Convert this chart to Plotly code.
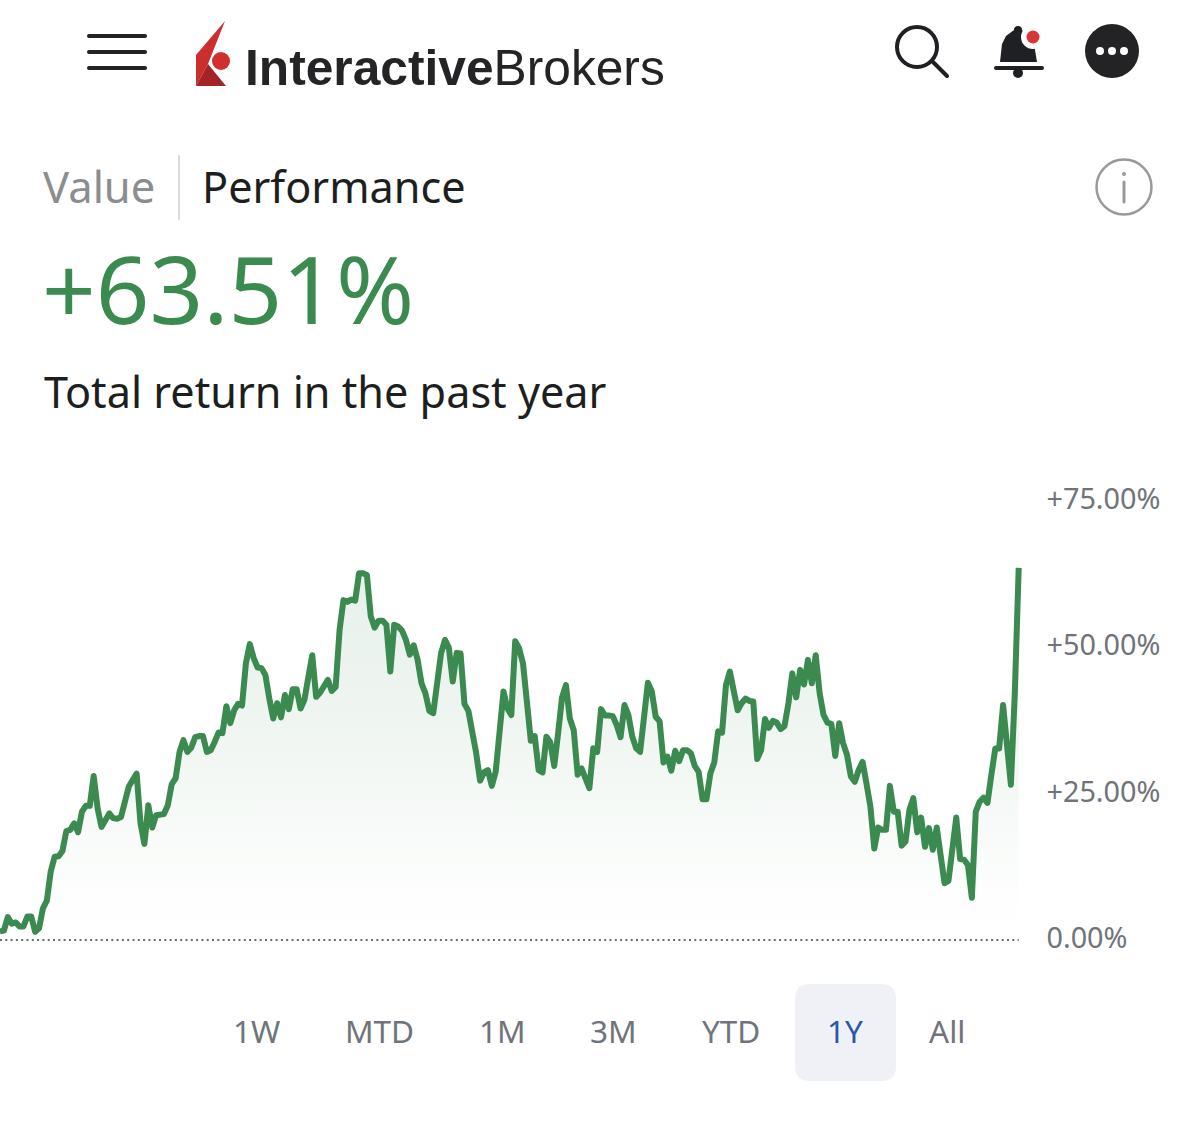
"""Interactive Brokers "Performance" phone screen: 1Y total return line."""
import plotly.graph_objects as go

W, H = 1200, 1135
GREEN = "#3b8a50"
DARK = "#1f2023"
GREY = "#70747a"
BODY_FONT = "Noto Sans"

# total return per session, percent
return_pct = [
    1.5, 1.6, 3.9, 2.8, 3.0, 2.3, 2.3, 4.0, 4.0, 1.4, 2.0, 5.4, 6.7, 11.7, 14.2, 14.3, 15.2, 18.6, 18.8, 19.9,
    18.4, 21.9, 22.9, 22.9, 28.0, 22.5, 19.3, 20.5, 21.6, 20.8, 20.7, 21.0, 24.2, 26.2, 27.3, 28.4, 19.9, 16.4, 23.0, 19.2,
    21.3, 21.4, 21.5, 23.0, 26.6, 27.6, 32.1, 34.1, 32.1, 32.8, 34.6, 34.8, 34.8, 32.1, 32.4, 33.8, 35.4, 35.3, 39.9, 37.0,
    39.2, 40.3, 40.0, 47.2, 50.5, 48.1, 46.5, 46.4, 45.2, 41.2, 37.8, 40.4, 38.0, 41.8, 39.4, 42.8, 42.8, 39.5, 41.0, 44.9,
    48.6, 41.5, 42.2, 43.3, 44.4, 42.5, 43.2, 52.9, 58.0, 57.7,
    58.1, 57.9, 62.6, 62.6, 62.3, 55.2, 53.3, 54.5, 54.5, 53.8, 45.8, 53.8, 53.5, 52.8, 51.2, 48.7, 50.3, 47.8, 43.8, 42.1,
    39.1, 38.7, 43.8, 48.9, 51.2, 49.9, 44.1, 49.0, 48.9, 40.3, 39.1, 35.8, 31.9, 27.2, 28.6, 29.0, 26.3, 28.7, 35.8, 42.4,
    39.5, 38.4, 51.0, 49.8, 47.2, 40.4, 34.0, 34.8, 29.0, 28.6, 34.7, 33.7, 29.7, 35.3, 41.4, 43.5, 37.8, 35.8, 28.2, 29.3,
    27.6, 25.9, 32.7, 32.1, 39.4, 38.3, 38.3, 38.2, 36.7, 34.6, 40.1, 38.4, 34.7, 32.7, 32.1, 38.1, 43.9, 42.4, 38.1, 37.3,
    30.3, 31.3, 28.9, 32.3, 30.5, 32.4, 32.4,
    31.9, 29.7, 28.7, 24.0, 24.0, 28.4, 30.3, 35.6, 35.4, 43.5, 45.8, 42.9, 39.2, 40.4, 41.2, 40.8, 40.7, 30.9, 32.4, 37.7,
    36.2, 37.4, 37.1, 36.0, 36.5, 40.4, 45.5, 41.4, 46.1, 43.6, 47.8, 43.8, 48.6, 42.1, 38.4, 37.1, 36.9, 31.4, 37.0, 33.6,
    31.6, 27.9, 27.0, 29.0, 30.4, 26.7, 22.8, 15.6, 19.2, 18.8, 18.8, 26.3, 21.9, 21.9, 16.1, 16.8, 22.2, 24.2, 18.4, 20.9,
    15.9, 19.1, 15.4, 19.2, 14.5, 9.7, 10.1, 15.9, 20.9, 13.8, 13.7, 12.8, 7.2, 21.9, 23.6, 24.3, 23.4, 28.2, 32.7, 32.7,
    40.1, 33.3, 26.5, 42.1, 63.51,
]
tick_vals = [0, 25, 50, 75]
tick_labels = ["0.00%", "+25.00%", "+50.00%", "+75.00%"]
range_labels = ["1W", "MTD", "1M", "3M", "YTD", "1Y", "All"]
range_centers = [256, 379, 502, 613, 731, 845, 947]


def fx(x):
    return x / W


def fy(y):
    return 1 - y / H


def poly(points, closed=True):
    cmds = [f"{'M' if i == 0 else 'L'} {fx(x):.5f} {fy(y):.5f}" for i, (x, y) in enumerate(points)]
    return " ".join(cmds) + (" Z" if closed else "")


def round_rect(x0, y0, x1, y1, r):
    p = lambda x, y: f"{fx(x):.5f} {fy(y):.5f}"
    return (f"M {p(x0 + r, y0)} L {p(x1 - r, y0)} Q {p(x1, y0)} {p(x1, y0 + r)} "
            f"L {p(x1, y1 - r)} Q {p(x1, y1)} {p(x1 - r, y1)} "
            f"L {p(x0 + r, y1)} Q {p(x0, y1)} {p(x0, y1 - r)} "
            f"L {p(x0, y0 + r)} Q {p(x0, y0)} {p(x0 + r, y0)} Z")


def paper_shape(**kw):
    return dict(xref="paper", yref="paper", **kw)


def line(x0, y0, x1, y1, color, width):
    return paper_shape(type="line", x0=fx(x0), y0=fy(y0), x1=fx(x1), y1=fy(y1),
                       line=dict(color=color, width=width))


def circle(cx, cy, r, fill=None, stroke=None, width=0):
    return paper_shape(type="circle", x0=fx(cx - r), y0=fy(cy - r), x1=fx(cx + r), y1=fy(cy + r),
                       fillcolor=fill or "rgba(0,0,0,0)",
                       line=dict(color=stroke or "rgba(0,0,0,0)", width=width))


def label(text, x, y, size, color, anchor="left", family=BODY_FONT, weight=None):
    font = dict(family=family, size=size, color=color)
    if weight:
        font["weight"] = weight
    return dict(text=text, x=fx(x), y=fy(y), xref="paper", yref="paper", showarrow=False,
                xanchor=anchor, yanchor="middle", font=font)


n = len(return_pct)
sessions = list(range(n))
last_px = 1018.7
px_per_session = last_px / (n - 1)
right_px = last_px + 4
px_per_pct = 5.86
zero_px = 940

fig = go.Figure()
fig.add_trace(go.Scatter(
    x=sessions, y=return_pct, mode="lines", fill="tozeroy",
    fillgradient=dict(type="vertical", start=0, stop=62,
                      colorscale=[[0, "rgba(255,255,255,1)"], [0.12, "rgba(253,254,253,1)"],
                                  [0.6, "#eff5f1"], [1, "#e8f1ec"]]),
    line=dict(color=GREEN, width=6, shape="linear"), hoverinfo="skip"))
fig.add_trace(go.Scatter(
    x=[0, n - 1], y=[0, 0], mode="lines",
    line=dict(color="#6b6b6b", width=2, dash="2px,3.3px"), hoverinfo="skip"))

# ---- app chrome drawn in page pixels ---------------------------------------
shapes = []
for y in (36, 52, 68):
    shapes.append(line(89, y, 145, y, "#232326", 4))
shapes += [
    paper_shape(type="path", path=poly([(225, 21), (196, 55), (196, 86), (208, 64)]),
                fillcolor="#cc2e2e", line=dict(width=0)),
    paper_shape(type="path", path=poly([(196, 86), (208, 64), (226, 86)]),
                fillcolor="#a32426", line=dict(width=0)),
    circle(221, 61, 9, fill="#cf2f2f"),
    circle(917, 47, 20, stroke=DARK, width=4),
    line(933, 62, 947, 76, DARK, 4),
    paper_shape(type="path",
                path=poly([(1000, 62), (1002, 44), (1006, 36), (1014, 30), (1022, 30), (1030, 36),
                           (1034, 44), (1037, 62)]),
                fillcolor=DARK, line=dict(width=0)),
    circle(1018, 30, 4, fill=DARK),
    line(996, 68, 1042, 68, DARK, 4),
    circle(1018, 73, 5, fill=DARK),
    circle(1033, 37, 12, fill="#ffffff"),
    circle(1033, 37, 6.5, fill="#d93636"),
    circle(1112, 51, 27, fill="#232325"),
    circle(1100, 51, 4, fill="#ffffff"),
    circle(1112, 51, 4, fill="#ffffff"),
    circle(1124, 51, 4, fill="#ffffff"),
    circle(1124, 187, 27.5, stroke="#999999", width=2.5),
    circle(1124, 174, 2, fill="#999999"),
    line(1124, 182, 1124, 202, "#999999", 3),
    line(179, 156, 179, 219, "#d9d9d9", 2),
    paper_shape(type="path", path=round_rect(795, 984, 896, 1081, 15),
                fillcolor="#eff1f7", line=dict(width=0), layer="below"),
]

annotations = [
    label("<b>Interactive</b>Brokers", 243, 68, 49.7, "#242426", family="Liberation Sans"),
    label("Value", 41, 186, 43.5, "#8b8d90"),
    label("Performance", 200, 186, 43.2, "#1d1e20"),
    label("+63.51%", 40, 288, 94, GREEN),
    label("Total return in the past year", 42, 391, 43.2, "#1d1e20"),
]
for text, cx in zip(range_labels, range_centers):
    color = "#2b57a8" if text == "1Y" else GREY
    annotations.append(label(text, cx, 1030, 31.5, color, anchor="center"))

y_min = -10
fig.update_layout(
    width=W, height=H, margin=dict(l=0, r=0, t=0, b=0), showlegend=False,
    paper_bgcolor="#ffffff", plot_bgcolor="#ffffff",
    shapes=shapes, annotations=annotations,
    xaxis=dict(range=[0, n - 1 + 4 / px_per_session], domain=[0, right_px / W], visible=False,
               automargin=False),
    yaxis=dict(range=[y_min, 75], side="right", automargin=False,
               domain=[fy(zero_px - y_min * px_per_pct), fy(zero_px - 75 * px_per_pct)],
               tickvals=tick_vals, ticktext=tick_labels, showgrid=False, zeroline=False,
               showline=False, ticks="outside", ticklen=17, tickcolor="rgba(0,0,0,0)",
               ticklabelshift=-2, tickfont=dict(family=BODY_FONT, size=28.8, color=GREY)),
)

# round line joins and caps, plotly has no option for them
ROUND_JS = """
document.body.style.margin = '0';
document.querySelectorAll('.js-line').forEach(function (el) { el.style.strokeLinejoin = 'round'; });
document.querySelectorAll('.shapelayer path').forEach(function (el) { el.style.strokeLinecap = 'round'; });
"""
fig.write_html("out.html", config=dict(displayModeBar=False), post_script=ROUND_JS)
